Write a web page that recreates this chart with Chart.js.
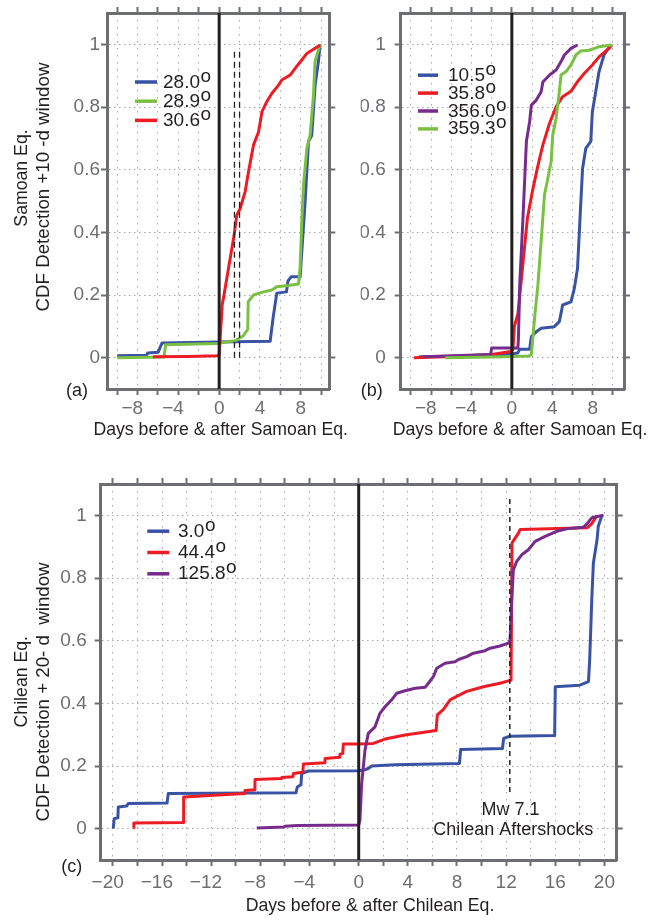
<!DOCTYPE html>
<html>
<head>
<meta charset="utf-8">
<script src="https://cdn.jsdelivr.net/npm/chart.js@4.4.0/dist/chart.umd.min.js"></script>
<style>
  html, body { margin: 0; padding: 0; background: #fff; }
  #wrap { position: relative; width: 658px; height: 920px; }
  #wrap canvas { position: absolute; left: 0; top: 0; }
</style>
</head>
<body>
<div id="wrap">
  <canvas id="panel-a" width="658" height="920"></canvas>
  <canvas id="panel-b" width="658" height="920"></canvas>
  <canvas id="panel-c" width="658" height="920"></canvas>
</div>
<script>
// tick positions (days) and CDF ticks
const dayTicks10 = [-10, -8, -6, -4, -2, 0, 2, 4, 6, 8, 10];
const dayLabels10 = [-8, -4, 0, 4, 8];
const dayTicks20 = [-20, -18, -16, -14, -12, -10, -8, -6, -4, -2, 0, 2, 4, 6, 8, 10, 12, 14, 16, 18, 20];
const dayLabels20 = [-20, -16, -12, -8, -4, 0, 4, 8, 12, 16, 20];
const cdfTicks = [0, 0.2, 0.4, 0.6, 0.8, 1];

// (a) Samoan Eq., +10 day window  [day, cdf]
const azimuthsA = ['28.0', '28.9', '30.6'];
const samoaA28_0 = [[-10, 0.006], [-7.1, 0.008], [-7.0, 0.015], [-6.0, 0.017], [-5.6, 0.047], [0, 0.05], [5.0, 0.052],
  [5.3, 0.13], [5.65, 0.206], [6.6, 0.21], [6.75, 0.245], [7.06, 0.258], [7.94, 0.258], [8.1, 0.337], [8.43, 0.498],
  [8.76, 0.69], [9.08, 0.71], [9.41, 0.87], [9.73, 0.945], [9.9, 1.0]];
const samoaA28_9 = [[-10, 0.0], [-5.4, 0.002], [-5.26, 0.041], [-0.1, 0.045], [0, 0.047], [1.55, 0.054], [2.37, 0.07],
  [2.8, 0.09], [2.85, 0.179], [3.37, 0.2], [4.35, 0.21], [5.16, 0.216], [5.65, 0.226], [6.8, 0.23], [7.78, 0.235],
  [7.94, 0.29], [8.1, 0.435], [8.27, 0.551], [8.6, 0.668], [8.92, 0.71], [9.25, 0.838], [9.4, 0.945], [9.9, 1.0]];
const samoaA30_6 = [[-6.5, 0.003], [-3, 0.004], [-0.2, 0.006], [0, 0.008], [0.3, 0.17], [0.42, 0.19], [0.92, 0.286],
  [1.41, 0.38], [1.73, 0.455], [2.06, 0.476], [2.55, 0.53], [2.88, 0.594], [3.37, 0.679], [3.86, 0.72], [4.2, 0.785],
  [4.67, 0.817], [5.16, 0.843], [5.82, 0.87], [6.14, 0.886], [6.96, 0.902], [7.45, 0.923], [8.1, 0.95], [8.6, 0.971],
  [9.9, 0.998]];

// (b) Samoan Eq., other azimuths
const azimuthsB = ['10.5', '35.8', '356.0', '359.3'];
const samoaB10_5 = [[-9.2, 0.003], [-2, 0.006], [-0.1, 0.012], [0.6, 0.015], [0.78, 0.027], [1.76, 0.027], [1.93, 0.067],
  [2.42, 0.083], [2.9, 0.094], [4.2, 0.099], [4.7, 0.115], [5.03, 0.168], [5.85, 0.178], [6.18, 0.22], [6.5, 0.285],
  [6.83, 0.498], [7.0, 0.604], [7.32, 0.668], [7.81, 0.69], [7.97, 0.785], [8.3, 0.849], [8.63, 0.913], [9.12, 0.966],
  [9.8, 0.998]];
const samoaB35_8 = [[-9.7, 0.0], [-6, 0.004], [-2, 0.01], [-0.1, 0.02], [0.1, 0.025], [0.25, 0.1], [0.6, 0.14],
  [1.05, 0.285], [1.54, 0.445], [2.03, 0.53], [2.52, 0.604], [3.07, 0.679], [3.73, 0.748], [4.38, 0.801], [5.03, 0.833],
  [5.85, 0.85], [6.5, 0.881], [7.16, 0.907], [7.97, 0.934], [8.63, 0.96], [9.6, 0.987], [9.9, 0.998]];
const samoaB356_0 = [[-8.8, 0.003], [-2.1, 0.01], [-2.0, 0.031], [0.6, 0.031], [0.65, 0.06], [0.78, 0.233], [1.1, 0.445],
  [1.44, 0.69], [1.76, 0.753], [1.93, 0.806], [2.42, 0.822], [2.9, 0.849], [3.07, 0.88], [3.73, 0.902], [4.38, 0.918],
  [4.87, 0.945], [5.2, 0.966], [5.85, 0.987], [6.5, 0.998]];
const samoaB359_3 = [[-6.6, 0.0], [-2, 0.002], [0, 0.004], [1.7, 0.005], [1.93, 0.01], [2.25, 0.126], [2.58, 0.233],
  [2.9, 0.371], [3.23, 0.52], [3.56, 0.572], [3.89, 0.626], [4.05, 0.711], [4.38, 0.764], [4.7, 0.849], [4.87, 0.902],
  [5.36, 0.913], [5.85, 0.934], [6.34, 0.966], [6.83, 0.979], [7.65, 0.981], [8.6, 0.992], [9.9, 0.998]];

// (c) Chilean Eq., +20 day window
const azimuthsC = ['3.0', '44.4', '125.8'];
const chileC3_0 = [[-19.98, 0.0], [-19.9, 0.032], [-19.6, 0.035], [-19.57, 0.069], [-18.9, 0.072], [-18.76, 0.08],
  [-15.6, 0.082], [-15.5, 0.112], [-5.1, 0.115], [-5.0, 0.133], [-4.7, 0.14], [-4.64, 0.176], [-4.1, 0.184], [0, 0.185],
  [0.5, 0.188], [0.78, 0.192], [1.06, 0.2], [2.95, 0.204], [8.2, 0.208], [8.3, 0.253], [11.7, 0.256], [11.8, 0.288],
  [12.3, 0.295], [15.95, 0.297], [16.0, 0.453], [18.0, 0.458], [18.7, 0.469], [18.8, 0.538], [18.97, 0.73],
  [19.1, 0.847], [19.4, 0.922], [19.5, 0.965], [19.8, 1.0]];
const chileC44_4 = [[-18.35, 0.003], [-18.3, 0.018], [-14.3, 0.02], [-14.25, 0.101], [-9.3, 0.112], [-9.26, 0.122],
  [-8.45, 0.124], [-8.44, 0.157], [-6.3, 0.16], [-6.27, 0.163], [-5.35, 0.166], [-5.32, 0.176], [-4.55, 0.18],
  [-4.5, 0.206], [-2.75, 0.21], [-2.74, 0.224], [-1.55, 0.228], [-1.52, 0.238], [-1.3, 0.24], [-1.25, 0.27], [0, 0.27],
  [1.19, 0.272], [2.14, 0.286], [3.77, 0.299], [6.3, 0.313], [6.4, 0.363], [6.9, 0.381], [7.44, 0.411], [7.98, 0.422],
  [8.79, 0.438], [10.15, 0.453], [11.5, 0.464], [12.4, 0.474], [12.48, 0.912], [13.0, 0.943], [13.15, 0.955],
  [18.6, 0.96], [19.0, 0.975], [19.4, 1.0]];
const chileC125_8 = [[-8.3, 0.002], [-6.1, 0.005], [-6.0, 0.008], [-5.0, 0.01], [0, 0.012], [0.1, 0.027], [0.24, 0.144],
  [0.51, 0.25], [0.78, 0.304], [1.33, 0.325], [1.73, 0.368], [2.14, 0.389], [2.68, 0.411], [3.09, 0.432], [3.77, 0.44],
  [4.6, 0.448], [5.4, 0.451], [5.67, 0.464], [6.08, 0.485], [6.35, 0.512], [7.03, 0.528], [7.84, 0.533], [8.12, 0.54],
  [8.79, 0.549], [9.34, 0.56], [10.28, 0.568], [10.7, 0.576], [11.5, 0.583], [12.19, 0.592], [12.32, 0.602],
  [12.46, 0.73], [12.59, 0.826], [12.86, 0.853], [13.27, 0.874], [13.81, 0.89], [14.36, 0.917], [15.17, 0.933],
  [16.12, 0.949], [16.93, 0.957], [18.28, 0.962], [18.56, 0.972], [18.97, 0.992], [19.92, 1.0]];

// event markers: the two Samoan dashed days and the Mw 7.1 aftershock day
const samoaDashDays = [1.5, 2.0];
const aftershockDay = 12.3;

const W = 658, H = 920;
const sans = '"Liberation Sans", Arial, sans-serif';
const ink = '#231f20';
const axisGrey = '#6d6e71';
const gridGrey = '#a4a6a9';
const blue = '#3953a4', green = '#7ac143', red = '#ed1c24', purple = '#772b8c';

function pts(pairs) {
  return pairs.map(([x, y]) => ({ x, y }));
}

// R-style: later curves are drawn on top
function curves(labels, series, colors) {
  return series.map((s, i) => ({
    label: labels[i],
    data: pts(s),
    borderColor: colors[i],
    borderWidth: 3,
    borderJoinStyle: 'round',
    pointRadius: 0,
    tension: 0,
    fill: false,
    order: series.length - i
  }));
}

function marker(x, y0, y1, width, dash) {
  return {
    data: [{ x, y: y0 }, { x, y: y1 }],
    borderColor: ink,
    borderWidth: width,
    borderDash: dash,
    pointRadius: 0,
    order: -1
  };
}

function dayText(v) {
  // minus hangs left of the tick, digits stay centred
  return v < 0 ? '\u2212' + (-v) + '\u2007' : String(v);
}

const fixedTicks = values => scale => {
  scale.ticks = values.map(value => ({ value }));
};

// fixed box sizes so each plot frame lands where it should
const fixHeight = h => s => { s.height = h; s.paddingLeft = 0; s.paddingRight = 0; };
const fixWidth = w => s => { s.width = w; s.paddingTop = 0; s.paddingBottom = 0; };

function scalesFor(p) {
  const tickFont = { family: sans, size: 19 };
  const grid = { color: gridGrey, lineWidth: 1, tickLength: 6, tickColor: axisGrey, tickWidth: 2, tickBorderDash: [] };
  const border = { color: axisGrey, width: 3 };
  return {
    x: {
      type: 'linear', position: 'bottom', min: p.xMin, max: p.xMax,
      afterBuildTicks: fixedTicks(p.xTicks),
      afterFit: fixHeight(40),
      ticks: {
        autoSkip: false, maxRotation: 0, padding: p.xPad, color: axisGrey, font: tickFont,
        callback: v => p.xLabels.includes(v) ? dayText(v) : ''
      },
      grid: grid,
      border: Object.assign({ dash: [1.5, 5.5] }, border)
    },
    x2: {
      type: 'linear', position: 'top', min: p.xMin, max: p.xMax,
      afterBuildTicks: fixedTicks(p.xTicks),
      afterFit: fixHeight(8),
      ticks: { display: false },
      grid: Object.assign({}, grid, { drawOnChartArea: false }),
      border: border
    },
    y: {
      type: 'linear', position: 'left', min: -0.1, max: 1.1,
      afterBuildTicks: fixedTicks(cdfTicks),
      afterFit: fixWidth(40),
      ticks: {
        padding: p.yPad, color: axisGrey, font: tickFont,
        callback: v => (v === 0 || v === 1) ? String(v) : v.toFixed(1)
      },
      grid: grid,
      border: Object.assign({ dash: [1.5, 3.5] }, border)
    },
    y2: {
      type: 'linear', position: 'right', min: -0.1, max: 1.1,
      afterBuildTicks: fixedTicks(cdfTicks),
      afterFit: fixWidth(8),
      ticks: { display: false },
      grid: Object.assign({}, grid, { drawOnChartArea: false }),
      border: border
    }
  };
}

// axis titles, panel letter, notes and the in-plot legend
const panelText = {
  id: 'panelText',
  afterDraw(chart, args, o) {
    const ctx = chart.ctx;
    ctx.save();
    ctx.fillStyle = ink;
    ctx.textBaseline = 'alphabetic';
    for (const t of o.yTitle) {
      ctx.save();
      ctx.translate(t.x, t.y);
      ctx.rotate(-Math.PI / 2);
      ctx.font = t.size + 'px ' + sans;
      ctx.textAlign = 'center';
      ctx.fillText(t.text, 0, 0);
      ctx.restore();
    }
    ctx.textAlign = 'center';
    for (const t of o.notes) {
      ctx.font = t.size + 'px ' + sans;
      ctx.fillText(t.text, t.x, t.y);
    }
    const lg = o.legend;
    ctx.font = '19px ' + sans;
    ctx.textAlign = 'left';
    chart.data.datasets.filter(d => d.label).forEach((d, i) => {
      const y = lg.y + i * lg.step;
      ctx.strokeStyle = d.borderColor;
      ctx.lineWidth = 3.5;
      ctx.beginPath();
      ctx.moveTo(lg.x1, y + 1.5);
      ctx.lineTo(lg.x2, y + 1.5);
      ctx.stroke();
      ctx.fillText(d.label, lg.tx, y + 7);
      const w = ctx.measureText(d.label).width;
      ctx.fillText('o', lg.tx + w + 0.5, y + 1);
    });
    ctx.restore();
  }
};

function makePanel(id, p) {
  const f = p.frame;
  new Chart(document.getElementById(id), {
    type: 'line',
    data: { datasets: p.datasets },
    options: {
      responsive: false,
      animation: false,
      devicePixelRatio: 1,
      events: [],
      layout: {
        padding: { left: f.l - 40, top: f.t - 8, right: W - f.r - 8, bottom: H - f.b - 40 }
      },
      scales: scalesFor(p),
      plugins: {
        legend: { display: false },
        tooltip: { enabled: false },
        panelText: p.text
      }
    },
    plugins: [panelText]
  });
}

makePanel('panel-a', {
  frame: { l: 107, t: 13, r: 329.3, b: 389 },
  xMin: -11, xMax: 10.8, xTicks: dayTicks10, xLabels: dayLabels10, xPad: 2, yPad: 1,
  datasets: curves(azimuthsA, [samoaA28_0, samoaA28_9, samoaA30_6], [blue, green, red]).concat([
    marker(0, -0.1, 1.1, 3, []),
    marker(samoaDashDays[0], 0, 0.98, 1.3, [6, 4]),
    marker(samoaDashDays[1], 0, 0.98, 1.3, [6, 4])
  ]),
  text: {
    yTitle: [
      { text: 'Samoan Eq.', x: 26.5, y: 178, size: 17.7 },
      { text: 'CDF Detection +10 -d window', x: 49, y: 187, size: 18.7 }
    ],
    notes: [
      { text: 'Days before & after Samoan Eq.', x: 220.7, y: 435, size: 17.7 },
      { text: '(a)', x: 77, y: 396, size: 18 }
    ],
    legend: { x1: 135, x2: 157, tx: 163, y: 80.5, step: 19.2 }
  }
});

makePanel('panel-b', {
  frame: { l: 400.7, t: 13, r: 624, b: 389 },
  xMin: -11, xMax: 11.1, xTicks: dayTicks10, xLabels: dayLabels10, xPad: 2, yPad: 9,
  datasets: curves(azimuthsB, [samoaB10_5, samoaB35_8, samoaB356_0, samoaB359_3], [blue, red, purple, green]).concat([
    marker(0, -0.1, 1.1, 3, [])
  ]),
  text: {
    yTitle: [],
    notes: [
      { text: 'Days before & after Samoan Eq.', x: 520, y: 435, size: 17.7 },
      { text: '(b)', x: 371.7, y: 396, size: 18 }
    ],
    legend: { x1: 418, x2: 438, tx: 448, y: 73.7, step: 17.9 }
  }
});

makePanel('panel-c', {
  frame: { l: 100.7, t: 484, r: 616.7, b: 860 },
  xMin: -21, xMax: 21, xTicks: dayTicks20, xLabels: dayLabels20, xPad: 5, yPad: 8,
  datasets: curves(azimuthsC, [chileC3_0, chileC44_4, chileC125_8], [blue, red, purple]).concat([
    marker(0, -0.1, 1.1, 3, []),
    marker(aftershockDay, 0.117, 1.057, 1.5, [5, 4])
  ]),
  text: {
    yTitle: [
      { text: 'Chilean Eq.', x: 26.5, y: 681.7, size: 17.7 },
      { text: 'CDF Detection + 20- d  window', x: 49, y: 692, size: 18.7 }
    ],
    notes: [
      { text: 'Days before & after Chilean Eq.', x: 370, y: 911, size: 17.7 },
      { text: '(c)', x: 71.7, y: 872, size: 18 },
      { text: 'Mw 7.1', x: 510.5, y: 815, size: 18 },
      { text: 'Chilean Aftershocks', x: 513.3, y: 835, size: 18 }
    ],
    legend: { x1: 147.3, x2: 169.3, tx: 178, y: 529.7, step: 21.3 }
  }
});
</script>
</body>
</html>
